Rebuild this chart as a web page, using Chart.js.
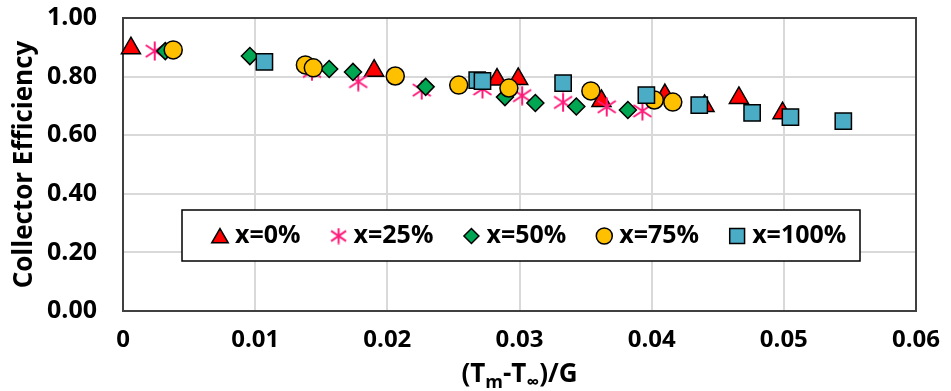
<!DOCTYPE html>
<html>
<head>
<meta charset="utf-8">
<script src="https://cdn.jsdelivr.net/npm/chart.js@4/dist/chart.umd.min.js"></script>
<style>
	html, body { margin:0; padding:0; background:#fff; }
	#wrap { width:951px; height:391px; position:relative; }
</style>
</head>
<body>
<div id="wrap"><canvas id="chart"></canvas></div>
<script>
// series: (Tm-Tinf)/G  vs  collector efficiency
let series_labels = ['x=0%', 'x=25%', 'x=50%', 'x=75%', 'x=100%'];

let x_0   = [0.0006, 0.0190, 0.0283, 0.0299, 0.0362, 0.0410, 0.0440, 0.0466, 0.0499];
let eff_0 = [0.897, 0.820, 0.790, 0.792, 0.717, 0.737, 0.700, 0.727, 0.675];

let x_25   = [0.0024, 0.0143, 0.0178, 0.0226, 0.0272, 0.0302, 0.0333, 0.0366, 0.0393];
let eff_25 = [0.887, 0.818, 0.783, 0.754, 0.758, 0.735, 0.712, 0.697, 0.683];

let x_50   = [0.0032, 0.0096, 0.0156, 0.0174, 0.0229, 0.0289, 0.0312, 0.0343, 0.0382];
let eff_50 = [0.887, 0.870, 0.826, 0.816, 0.765, 0.730, 0.710, 0.698, 0.686];

let x_75   = [0.0038, 0.0138, 0.0144, 0.0206, 0.0254, 0.0292, 0.0354, 0.0402, 0.0416];
let eff_75 = [0.891, 0.840, 0.830, 0.802, 0.771, 0.761, 0.751, 0.720, 0.713];

let x_100   = [0.0107, 0.0268, 0.0272, 0.0333, 0.0396, 0.0436, 0.0476, 0.0505, 0.0545];
let eff_100 = [0.850, 0.788, 0.785, 0.778, 0.737, 0.703, 0.676, 0.662, 0.648];

let x_ticks = [0, 0.01, 0.02, 0.03, 0.04, 0.05, 0.06];
let y_ticks = [0, 0.2, 0.4, 0.6, 0.8, 1.0];

const FONT = "'Open Sans', 'DejaVu Sans', sans-serif";

function points(xs, ys){
	return xs.map((x, i) => ({x: x, y: ys[i]}));
}

// excel style asterisk: vertical bar plus an x
function make_asterisk(size, color){
	let c = document.createElement('canvas');
	c.width = size; c.height = size;
	let g = c.getContext('2d');
	g.strokeStyle = color;
	g.lineWidth = 2;
	g.beginPath();
	g.moveTo(size/2, 0.5); g.lineTo(size/2, size-0.5);
	g.moveTo(1, size*0.2); g.lineTo(size-1, size*0.8);
	g.moveTo(size-1, size*0.2); g.lineTo(1, size*0.8);
	g.stroke();
	return c;
}
let star_big = make_asterisk(20, '#ff1a7a');
let star_small = make_asterisk(17, '#ff1a7a');

let styles = [
	{pointStyle:'triangle', radius:11, bg:'#ff0000', legend_radius:9.5},
	{pointStyle:star_big, radius:10, bg:'#ff1a7a', legend_style:star_small},
	{pointStyle:'rectRot', radius:8.5, bg:'#00a651', legend_radius:7.5},
	{pointStyle:'circle', radius:9, bg:'#ffc000', legend_radius:8},
	{pointStyle:'rect', radius:11.5, bg:'#4bacc6', legend_radius:10.5}
];
let all_x = [x_0, x_25, x_50, x_75, x_100];
let all_y = [eff_0, eff_25, eff_50, eff_75, eff_100];

let datasets = series_labels.map((label, i) => ({
	label: label,
	data: points(all_x[i], all_y[i]),
	pointStyle: styles[i].pointStyle,
	pointRadius: styles[i].radius,
	pointHoverRadius: styles[i].radius,
	backgroundColor: styles[i].bg,
	borderColor: '#000',
	borderWidth: 1.5,
	showLine: false,
	clip: false,
	order: 4 - i
}));

let plot_frame = {
	id: 'plot_frame',
	beforeDatasetsDraw(chart){
		let a = chart.chartArea, ctx = chart.ctx;
		ctx.save();
		ctx.strokeStyle = '#404040';
		ctx.lineWidth = 2;
		ctx.strokeRect(a.left, a.top, a.right - a.left, a.bottom - a.top);
		ctx.restore();
	}
};

let inner_legend = {
	id: 'inner_legend',
	afterDatasetsDraw(chart){
		let ctx = chart.ctx;
		ctx.save();
		ctx.fillStyle = '#fff';
		ctx.fillRect(182, 210, 678, 51);
		ctx.strokeStyle = '#000';
		ctx.lineWidth = 1.5;
		ctx.strokeRect(182, 210, 678, 51);
		ctx.font = `bold 25px ${FONT}`;
		ctx.textBaseline = 'middle';
		let x = 220, y = 236;
		chart.data.datasets.forEach((ds, i) => {
			let st = styles[i];
			ctx.fillStyle = st.bg;
			ctx.strokeStyle = '#000';
			ctx.lineWidth = 1.5;
			let opts = {
				pointStyle: st.legend_style || st.pointStyle,
				radius: st.legend_radius || 8,
				rotation: 0,
				borderWidth: 1.5
			};
			let py = st.pointStyle === 'triangle' ? y + 2 : y;
			Chart.helpers.drawPoint(ctx, opts, x, py);
			ctx.fillStyle = '#000';
			ctx.fillText(ds.label, x + 15, y);
			x += 15 + ctx.measureText(ds.label).width + 38;
		});
		ctx.restore();
	}
};

let x_title = {
	id: 'x_title',
	afterDraw(chart){
		let ctx = chart.ctx, a = chart.chartArea;
		let parts = [['(T', 0], ['m', 1], ['-T', 0], ['\u221e', 1], [')/G', 0]];
		let big = `bold 26px ${FONT}`, small = `bold 18px ${FONT}`;
		ctx.save();
		ctx.fillStyle = '#000';
		ctx.textBaseline = 'alphabetic';
		let w = 0;
		parts.forEach(p => { ctx.font = p[1] ? small : big; w += ctx.measureText(p[0]).width; });
		let x = (a.left + a.right) / 2 - w / 2, y = 382;
		parts.forEach(p => {
			ctx.font = p[1] ? small : big;
			ctx.fillText(p[0], x, p[1] ? y + 6 : y);
			x += ctx.measureText(p[0]).width;
		});
		ctx.restore();
	}
};

// drop the automatic label overhang so the plot box sits where the layout padding says
function no_overhang(s){
	s.paddingTop = 0; s.paddingBottom = 0;
	s.paddingLeft = 0; s.paddingRight = 0;
}

new Chart('chart', {
	type: 'scatter',
	data: { datasets: datasets },
	options: {
		responsive: true,
		maintainAspectRatio: false,
		animation: false,
		layout: { padding: { top: 18, right: 35, left: 0, bottom: 0 } },
		plugins: {
			legend: { display: false },
			tooltip: { enabled: false }
		},
		scales: {
			x: {
				type: 'linear',
				min: x_ticks[0],
				max: x_ticks[x_ticks.length - 1],
				afterBuildTicks: s => { s.ticks = x_ticks.map(v => ({value: v})); },
				afterFit: s => { s.height = 80; no_overhang(s); },
				ticks: {
					color: '#000',
					font: { family: FONT, size: 24, weight: 'bold' },
					padding: 15,
					maxRotation: 0,
					callback: v => v === 0 ? '0' : v.toFixed(2)
				},
				grid: { color: '#d9d9d9', lineWidth: 2, drawTicks: false },
				border: { display: false }
			},
			y: {
				min: y_ticks[0],
				max: y_ticks[y_ticks.length - 1],
				afterBuildTicks: s => { s.ticks = y_ticks.map(v => ({value: v})); },
				afterFit: s => { s.width = 123; no_overhang(s); },
				ticks: {
					color: '#000',
					font: { family: FONT, size: 25, weight: 'bold' },
					padding: 26,
					callback: v => v.toFixed(2)
				},
				grid: { color: '#d9d9d9', lineWidth: 2, drawTicks: false },
				border: { display: false },
				title: {
					display: true,
					text: 'Collector Efficiency',
					color: '#000',
					font: { family: FONT, size: 26, weight: 'bold' },
					padding: { top: 9, bottom: 0 }
				}
			}
		}
	},
	plugins: [plot_frame, inner_legend, x_title]
});
</script>
</body>
</html>
